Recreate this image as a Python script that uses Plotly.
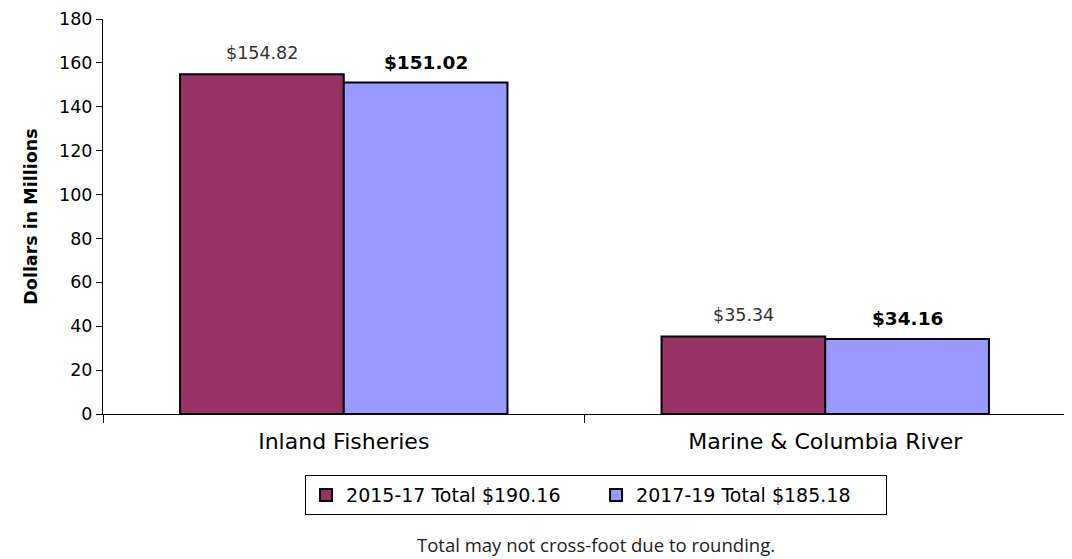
import plotly.graph_objects as go

categories = ['Inland Fisheries', 'Marine & Columbia River']
values_1517 = [154.82, 35.34]
values_1719 = [151.02, 34.16]
name_1517 = '2015-17 Total $190.16'
name_1719 = '2017-19 Total $185.18'
y_ticks = [0, 20, 40, 60, 80, 100, 120, 140, 160, 180]

FONT = 'DejaVu Sans'

fig = go.Figure()

fig.add_trace(go.Bar(
    x=categories, y=values_1517, name=name_1517,
    marker=dict(color='#993366', line=dict(color='black', width=2)),
))
fig.add_trace(go.Bar(
    x=categories, y=values_1719, name=name_1719,
    marker=dict(color='#9999FF', line=dict(color='black', width=2)),
))

# value labels above the bars
for cat, v in zip(categories, values_1517):
    fig.add_annotation(x=cat, y=v, text=f'${v:.2f}', showarrow=False,
                       xshift=-82, yshift=9, yanchor='bottom',
                       font=dict(family=FONT, size=17.5, color='#333'))
for cat, v in zip(categories, values_1719):
    fig.add_annotation(x=cat, y=v, text=f'<b>${v:.2f}</b>', showarrow=False,
                       xshift=82, yshift=8, yanchor='bottom',
                       font=dict(family=FONT, size=18.5, color='black'))

fig.add_annotation(x=0.512, xref='paper', xanchor='center', y=-0.33, yref='paper',
                   yanchor='middle', text='Total may not cross-foot due to rounding.',
                   showarrow=False, font=dict(family='Open Sans', size=18.5, color='#222'))

# page body has an 8px margin, so the figure is a bit smaller than the window
fig.update_layout(
    barmode='group',
    bargap=0.32,
    bargroupgap=0,
    width=1064, height=551,
    margin=dict(l=95, r=6, t=11, b=145),
    plot_bgcolor='white',
    paper_bgcolor='white',
    font=dict(family=FONT, color='black'),
    legend=dict(
        orientation='h',
        x=0.512, xanchor='center',
        y=-0.155, yanchor='top',
        bordercolor='black', borderwidth=1,
        font=dict(family=FONT, size=19, color='black'),
        entrywidth=245,
    ),
)

fig.update_xaxes(
    showline=True, linecolor='black', linewidth=1,
    ticks='outside', tickson='boundaries', ticklen=8, tickcolor='black',
    tickfont=dict(family=FONT, size=22, color='black'),
    ticklabelstandoff=8,
    automargin=False,
    range=[-0.5, 1.5],
)
fig.update_yaxes(
    range=[0, 180], tickvals=y_ticks,
    showline=True, linecolor='black', linewidth=1,
    ticks='outside', ticklen=6, tickcolor='black',
    showgrid=False, zeroline=False,
    automargin=False,
    ticklabeloverflow='allow',
    tickfont=dict(family=FONT, size=17.5, color='black'),
    title=dict(text='<b>Dollars in Millions</b>', font=dict(family=FONT, size=17.5, color='black'), standoff=16),
)

fig.write_html('out.html')
